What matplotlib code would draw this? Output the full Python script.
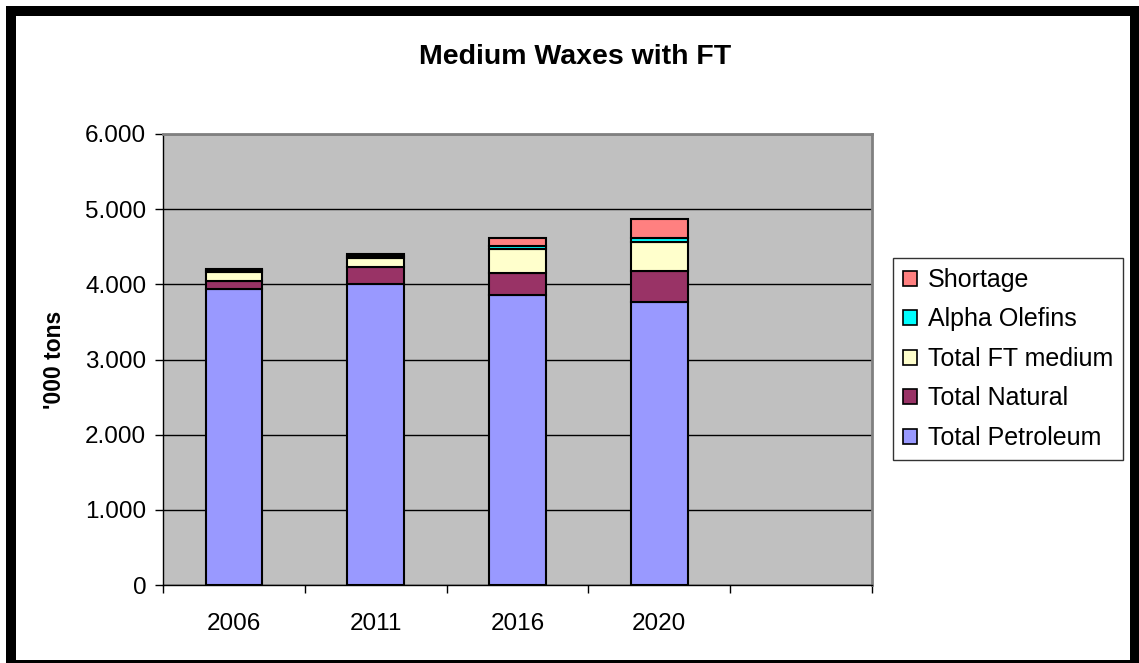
import matplotlib
matplotlib.use("Agg")
import matplotlib.pyplot as plt
from matplotlib.patches import Rectangle, Patch
import numpy as np

plt.rcParams['font.family'] = ['Liberation Sans', 'DejaVu Sans']

years = ["2006", "2011", "2016", "2020"]
total_petroleum = [3940, 4000, 3860, 3760]
total_natural = [105, 225, 290, 415]
total_ft_medium = [125, 120, 320, 390]
alpha_olefins = [15, 30, 35, 45]
shortage = [15, 30, 105, 255]

series = [
    ("Total Petroleum", total_petroleum, "#9999FF"),
    ("Total Natural", total_natural, "#993366"),
    ("Total FT medium", total_ft_medium, "#FFFFCC"),
    ("Alpha Olefins", alpha_olefins, "#00FFFF"),
    ("Shortage", shortage, "#FF8080"),
]

W, H = 1139, 663
fig = plt.figure(figsize=(W / 100, H / 100), dpi=100)
fig.patch.set_facecolor("white")

# heavy frame around the chart
def frame(x0, y0, x1, y1):
    fig.patches.append(Rectangle((x0 / W, 1 - y1 / H), (x1 - x0) / W, (y1 - y0) / H,
                                 transform=fig.transFigure, facecolor="black",
                                 edgecolor="none", zorder=0))
frame(6, 6, 1139, 16)
frame(6, 6, 16, 663)
frame(1130, 6, 1139, 663)
frame(6, 660, 1139, 663)

ax = fig.add_axes([163 / W, 1 - 585 / H, (872 - 163) / W, (585 - 134) / H])
ax.set_facecolor("#C0C0C0")

x = np.arange(len(years))
bottom = np.zeros(len(years))
for name, vals, color in series:
    ax.bar(x, vals, width=0.4, bottom=bottom, color=color, edgecolor="black",
           linewidth=1.5, zorder=3, label=name)
    bottom += np.array(vals)

ax.set_xlim(-0.5, 4.5)
ax.set_ylim(0, 6000)
ax.set_yticks(np.arange(0, 6001, 1000))
ax.set_yticklabels(["0" if v == 0 else f"{v // 1000}.{v % 1000:03d}" for v in range(0, 6001, 1000)])
ax.yaxis.grid(True, color="black", linewidth=1.0, zorder=1)
ax.set_axisbelow(True)

ax.set_xticks(x)
ax.set_xticklabels(years)
ax.set_xticks(np.arange(-0.5, 4.6, 1.0), minor=True)
ax.tick_params(axis="x", which="major", length=0, pad=20, labelsize=17.5)
ax.tick_params(axis="x", which="minor", length=6, width=1, direction="out")
ax.tick_params(axis="y", length=6, width=1, direction="out", pad=6, labelsize=17.5)

for side in ("top", "right"):
    ax.spines[side].set_color("#808080")
    ax.spines[side].set_linewidth(2)
for side in ("left", "bottom"):
    ax.spines[side].set_color("black")
    ax.spines[side].set_linewidth(1)

ax.set_ylabel("'000 tons", fontsize=16.5, fontweight="bold", labelpad=14)
fig.text(575 / W, 1 - 57 / H, "Medium Waxes with FT", fontsize=20.5, fontweight="bold",
         ha="center", va="center")

handles = [Patch(facecolor=c, edgecolor="black", linewidth=1.2) for _, _, c in series][::-1]
labels = [n for n, _, _ in series][::-1]
leg = fig.legend(handles, labels, loc="upper left",
                 bbox_to_anchor=(893 / W, 1 - 258 / H), fontsize=18,
                 frameon=True, fancybox=False, edgecolor="black",
                 handlelength=0.55, handleheight=0.55, handletextpad=0.45,
                 labelspacing=0.62, borderpad=0.4, borderaxespad=0)
leg.get_frame().set_linewidth(1)

fig.savefig("out.png", dpi=100, facecolor="white")
